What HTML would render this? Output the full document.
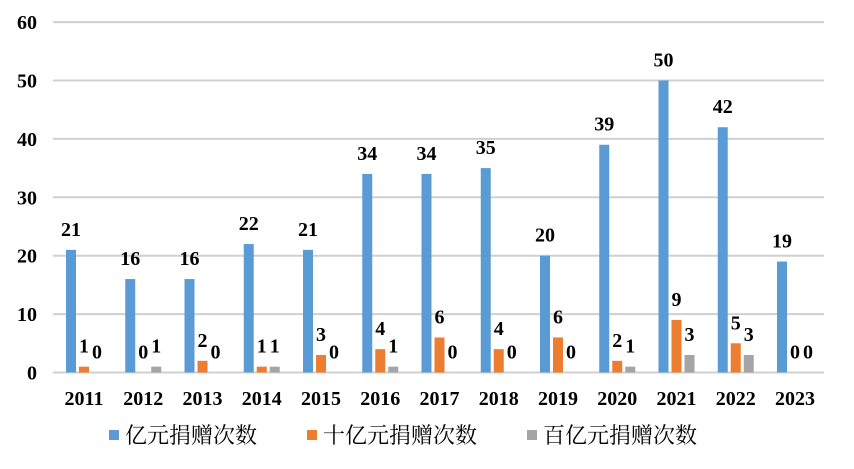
<!DOCTYPE html>
<html><head><meta charset="utf-8"><style>
html,body{margin:0;padding:0;background:#fff;}
svg{display:block;}
.v{font-family:"Liberation Serif",serif;font-weight:bold;font-size:20px;fill:#000;}
.l{font-family:"Liberation Sans","Noto Serif CJK SC","Noto Sans CJK SC",sans-serif;font-size:22px;fill:#000;}
</style></head><body>
<svg id="c" width="854" height="469" xmlns="http://www.w3.org/2000/svg"></svg>
<script>
var s='';
var z=372.5,u=5.84;
for(var i=0;i<=6;i++){var y=z-i*10*u;
s+='<line x1="53" x2="824" y1="'+y+'" y2="'+y+'" stroke="#d0d0d0" stroke-width="2"/>';
s+='<text class="v" x="37" y="'+(y+7)+'" text-anchor="end">'+(i*10)+'</text>';}
var A=[21,16,16,22,21,34,34,35,20,39,50,42,19],B=[1,0,2,1,3,4,6,4,6,2,9,5,0],C=[0,1,0,1,0,1,0,0,0,1,3,3,0];
var cols=['#5b9bd5','#ed7d31','#a5a5a5'];
for(var k=0;k<13;k++){
 var x0=66+59.25*k;
 [A,B,C].forEach(function(D,j){
  var x=x0+13*j,h=D[k]*u,top=z-h;
  if(h>0)s+='<rect x="'+x+'" y="'+top+'" width="10" height="'+h+'" fill="'+cols[j]+'"/>';
  s+='<text class="v" x="'+(x+5)+'" y="'+(top-14)+'" text-anchor="middle">'+D[k]+'</text>';
 });
 s+='<text class="v" x="'+(x0+18)+'" y="405" text-anchor="middle">'+(2011+k)+'</text>';
}
var L=[[109,'亿元捐赠次数'],[307,'十亿元捐赠次数'],[527,'百亿元捐赠次数']];
L.forEach(function(a,j){s+='<rect x="'+a[0]+'" y="430" width="10" height="10" fill="'+cols[j]+'"/>';
s+='<text class="l" x="'+(a[0]+16)+'" y="443">'+a[1]+'</text>';});
document.getElementById('c').innerHTML=s;
</script>
</body></html>
